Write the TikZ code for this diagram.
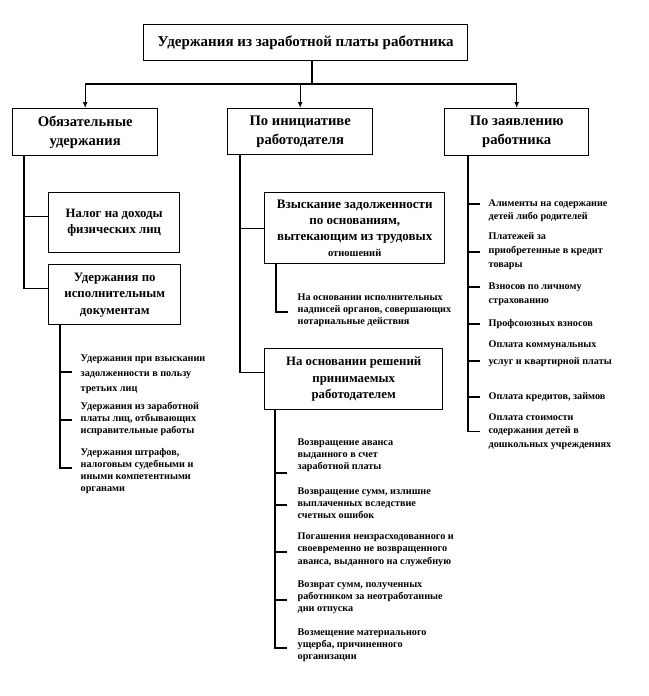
\documentclass[tikz,border=0pt]{standalone}
\usepackage{fontspec}
\setmainfont{Liberation Serif}
\usetikzlibrary{arrows.meta}
\begin{document}
\begin{tikzpicture}[x=1pt,y=-1pt,line width=1.3pt,
  box/.style={draw,line width=1.4pt,inner sep=0pt,align=center,anchor=north west},
  mainfont/.style={font=\fontsize{14.6}{19}\selectfont\bfseries},
  midfont/.style={font=\fontsize{12.8}{16.5}\selectfont\bfseries},
  item/.style={inner xsep=#1,inner ysep=0pt,align=left,anchor=west},
  itemfont/.style={font=\fontsize{10.2}{#1}\selectfont\bfseries},
  arr/.style={-{Latex[length=6pt,width=5pt]}}]
\useasboundingbox (0,0) rectangle (648,696);

% title
\node[box,minimum width=324pt,minimum height=36pt,font=\fontsize{15}{17}\selectfont\bfseries] (T) at (143,24) {Удержания из заработной платы работника};
\coordinate (J) at (312,84);

% main categories
\node[box,mainfont,minimum width=145pt,minimum height=47pt] (B1) at (12,108) {Обязательные\\удержания};
\node[box,mainfont,minimum width=145pt,minimum height=46pt] (B2) at (227,108) {По инициативе\\работодателя};
\node[box,mainfont,minimum width=144pt,minimum height=47pt] (B3) at (444,108) {По заявлению\\работника};

\draw (T.south -| J) -- (J);
\draw (B1.north |- J) -- (B3.north |- J);
\draw[arr] (B1.north |- J) -- (B1.north);
\draw[arr] (B2.north |- J) -- (B2.north);
\draw[arr] (B3.north |- J) -- (B3.north);

% left column
\node[box,midfont,minimum width=131pt,minimum height=60pt] (N1) at (48,192) {Налог на доходы\\физических лиц};
\node[box,midfont,minimum width=132pt,minimum height=60pt] (N2) at (48,264) {Удержания по\\исполнительным\\документам};
\draw ([xshift=12pt]B1.south west) |- ([yshift=6pt]N1.west);
\draw ([xshift=12pt]B1.south west) |- ([yshift=6pt]N2.west);

\node[item=8pt,itemfont=15] (L1) at (72,374) {Удержания при взыскании\\задолженности в пользу\\третьих лиц};
\node[item=8pt,itemfont=12] (L2) at (72,419) {Удержания из заработной\\платы лиц, отбывающих\\исправительные работы};
\node[item=8pt,itemfont=12] (L3) at (72,471) {Удержания штрафов,\\налоговым судебными и\\иными компетентными\\органами};
\draw ([xshift=12pt]N2.south west) |- ([yshift=2pt]L1.west);
\draw ([xshift=12pt]N2.south west) |- ([yshift=-1pt]L2.west);
\draw ([xshift=12pt]N2.south west) |- ([yshift=3pt]L3.west);

% middle column
\node[box,font=\fontsize{13}{16}\selectfont\bfseries,minimum width=180pt,minimum height=71pt] (M1) at (264,192) {Взыскание задолженности\\по основаниям,\\вытекающим из трудовых\\{\fontsize{10.5}{12}\selectfont отношений}};
\node[box,midfont,minimum width=178pt,minimum height=61pt] (M2) at (264,348) {На основании решений\\принимаемых\\работодателем};
\draw ([xshift=13pt]B2.south west) |- (M1.west);
\draw ([xshift=13pt]B2.south west) |- ([yshift=6.5pt]M2.west);

\node[item=9pt,itemfont=12] (M0) at (288,310) {На основании исполнительных\\надписей органов, совершающих\\нотариальные действия};
\draw ([xshift=12pt]M1.south west) |- ([yshift=-2pt]M0.west);

\node[item=10pt,itemfont=12] (P1) at (287,455) {Возвращение аванса\\выданного в счет\\заработной платы};
\node[item=10pt,itemfont=12] (P2) at (287,503) {Возвращение сумм, излишне\\выплаченных вследствие\\счетных ошибок};
\node[item=10pt,itemfont=12.5] (P3) at (287,549.5) {Погашения неизрасходованного и\\своевременно не возвращенного\\аванса, выданного на служебную};
\node[item=10pt,itemfont=12] (P4) at (287,597) {Возврат сумм, полученных\\работником за неотработанные\\дни отпуска};
\node[item=10pt,itemfont=12] (P5) at (287,645) {Возмещение материального\\ущерба, причиненного\\организации};
\draw ([xshift=11pt]M2.south west) |- ([yshift=-18pt]P1.west);
\draw ([xshift=11pt]M2.south west) |- ([yshift=-2pt]P2.west);
\draw ([xshift=11pt]M2.south west) |- ([yshift=-2.5pt]P3.west);
\draw ([xshift=11pt]M2.south west) |- ([yshift=-3pt]P4.west);
\draw ([xshift=11pt]M2.south west) |- ([yshift=-3pt]P5.west);

% right column
\node[item=8pt,itemfont=13.5] (R1) at (480,210.5) {Алименты на содержание\\детей либо родителей};
\node[item=8pt,itemfont=14] (R2) at (480,251) {Платежей за\\приобретенные в кредит\\товары};
\node[item=8pt,itemfont=14] (R3) at (480,294) {Взносов по личному\\страхованию};
\node[item=8pt,itemfont=14] (R4) at (480,324) {Профсоюзных взносов};
\node[item=8pt,itemfont=17] (R5) at (480,353.5) {Оплата коммунальных\\услуг и квартирной платы};
\node[item=8pt,itemfont=14] (R6) at (480,397) {Оплата кредитов, займов};
\node[item=8pt,itemfont=13.5] (R7) at (480,431.5) {Оплата стоимости\\содержания детей в\\дошкольных учреждениях};
\draw ([xshift=24pt]B3.south west) |- ([yshift=6.5pt]R1.west);
\draw ([xshift=24pt]B3.south west) |- ([yshift=-1pt]R2.west);
\draw ([xshift=24pt]B3.south west) |- ([yshift=7pt]R3.west);
\draw ([xshift=24pt]B3.south west) |- (R4.west);
\draw ([xshift=24pt]B3.south west) |- ([yshift=-7.5pt]R5.west);
\draw ([xshift=24pt]B3.south west) |- (R6.west);
\draw ([xshift=24pt]B3.south west) |- (R7.west);
\end{tikzpicture}
\end{document}
